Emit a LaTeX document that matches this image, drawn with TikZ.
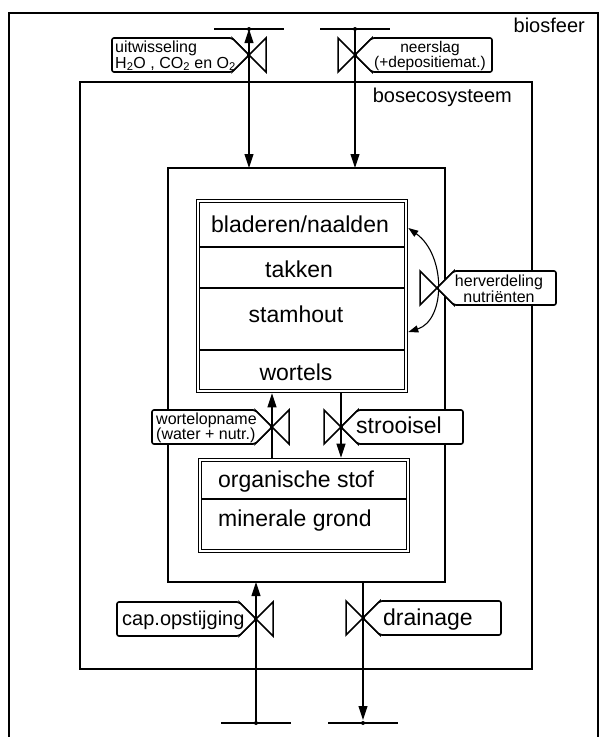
\documentclass[tikz,border=0pt]{standalone}
\usepackage{fontspec}
\setmainfont{Liberation Sans}
\usetikzlibrary{arrows.meta,calc}
\tikzset{
  boxline/.style={draw=black, line width=1.3pt, inner sep=0pt, outer sep=0pt},
  dblframe/.style={boxline, double, double distance=2.4pt, line width=1.1pt, outer sep=2.3pt},
  flowline/.style={line width=1.1pt},
  flowtip/.style={-{Triangle[length=14pt,width=9pt]}},
  flowboth/.style={{Triangle[length=14pt,width=9pt]}-{Triangle[length=14pt,width=9pt]}},
  arcboth/.style={{Triangle[length=10pt,width=7pt]}-{Triangle[length=10pt,width=7pt]}},
  barline/.style={line width=1.1pt},
  tagline/.style={draw=black, fill=white, line width=1.6pt, rounded corners=2pt},
  valveline/.style={line width=1.5pt, line join=miter},
  node-dot/.style={circle, fill=black, minimum size=4pt, inner sep=0pt},
  boxtext/.style={font=\fontsize{23}{26}\selectfont, inner sep=0pt, anchor=base},
  sidetext/.style={font=\fontsize{20}{22}\selectfont, inner sep=0pt},
  tagtext/.style={font=\fontsize{16}{15.5}\selectfont, inner sep=0pt, align=left},
  valve/.pic={\draw[valveline] (-17,-17) -- (17,17) -- (17,-17) -- (-17,17) -- cycle;}
}
% label flags, pointed end at a valve centre
\newcommand{\tagleft}[2]{\draw[tagline] (#1) -- ++(-17,-17) -- ++(-#2,0) -- ++(0,34) -- ++(#2,0) -- cycle;}
\newcommand{\tagright}[2]{\draw[tagline] (#1) -- ++(17,-17) -- ++(#2,0) -- ++(0,34) -- ++(-#2,0) -- cycle;}

\begin{document}
\begin{tikzpicture}[x=1pt, y=-1pt]
  \useasboundingbox (0,0) rectangle (603,737);
  % biosfeer (open at the bottom)
  \draw[boxline] (9,737) -- (9,13) -- (598,13) -- (598,737);
  \node[boxline, minimum width=452pt, minimum height=587pt] (bos) at (306,375.5) {};
  \node[boxline, minimum width=277pt, minimum height=414pt] (sys) at (306.5,375) {};
  \node[dblframe, minimum width=208pt, minimum height=190pt] (veg) at (302,296) {};
  \node[dblframe, minimum width=208pt, minimum height=91pt] (soil) at (304,505.5) {};
  \foreach \y in {247,288,350} {
    \draw[boxline] (200,\y) -- (404,\y);
  }
  \draw[boxline] (202,499) -- (406,499);

  % valve centres and bars
  \coordinate (vExch) at (249,55);
  \coordinate (vRain) at (355,55);
  \coordinate (vRedis) at (437,288);
  \coordinate (vUptake) at (272,427);
  \coordinate (vLitter) at (341,427);
  \coordinate (vCap) at (256,619);
  \coordinate (vDrain) at (363,618);
  \coordinate (exchBar) at (249,29);
  \coordinate (rainBar) at (355,29);
  \coordinate (capBar) at (256,723);
  \coordinate (drainBar) at (363,723);
  \foreach \b in {exchBar,rainBar,capBar,drainBar} {
    \draw[barline] ([xshift=-35pt]\b) -- ([xshift=35pt]\b);
    \node[node-dot] (\b-dot) at (\b) {};
  }

  % flows
  \draw[flowline, flowboth] (exchBar) -- (exchBar |- sys.north);
  \draw[flowline, flowtip] (rainBar) -- (rainBar |- sys.north);
  \draw[flowline, flowtip] (vUptake |- soil.north) -- (vUptake |- veg.south);
  \draw[flowline, flowtip] (vLitter |- veg.south) -- (vLitter |- soil.north);
  \draw[flowline, flowtip] (capBar) -- (capBar |- sys.south);
  \draw[flowline, flowtip, shorten >=3pt] (drainBar |- sys.south) -- (drainBar);
  \draw[flowline, arcboth] (veg.east |- 0,228) .. controls (446,255) and (446,320) .. (veg.east |- 0,332);

  \foreach \v in {vExch,vRain,vRedis,vUptake,vLitter,vCap,vDrain} {
    \pic at (\v) {valve};
  }
  \tagleft{vExch}{120}
  \tagright{vRain}{120}
  \tagright{vRedis}{102}
  \tagleft{vUptake}{103}
  \tagright{vLitter}{105}
  \tagleft{vCap}{122}
  \tagright{vDrain}{121}

  % texts
  \node[sidetext, anchor=base east] (biosfeer) at (585,32) {biosfeer};
  \node[sidetext, anchor=base east] (bosname) at (512,102) {bosecosysteem};
  \node[tagtext, anchor=west] (exchange) at (115,56) {uitwisseling\\H\textsubscript{2}O , CO\textsubscript{2} en O\textsubscript{2}};
  \node[tagtext, align=center, font=\fontsize{15.5}{15.5}\selectfont] (rain) at (430,56) {neerslag\\(+depositiemat.)};
  \node[tagtext, align=center] (redis) at (499,289) {herverdeling\\nutriënten};
  \node[tagtext, anchor=west] (uptake) at (156,428) {wortelopname\\(water + nutr.)};
  \node[boxtext, anchor=base west] (litter) at (356,433) {strooisel};
  \node[sidetext, anchor=base west] (caprise) at (122,625) {cap.opstijging};
  \node[boxtext, anchor=base west] (drain) at (383,625) {drainage};
  \node[boxtext] (leaves) at (300,232) {bladeren/naalden};
  \node[boxtext] (twigs) at (299,277) {takken};
  \node[boxtext] (stem) at (296,322) {stamhout};
  \node[boxtext] (roots) at (296,380) {wortels};
  \node[boxtext, anchor=base west] (organic) at (218,487) {organische stof};
  \node[boxtext, anchor=base west] (mineral) at (218,526) {minerale grond};
\end{tikzpicture}
\end{document}
